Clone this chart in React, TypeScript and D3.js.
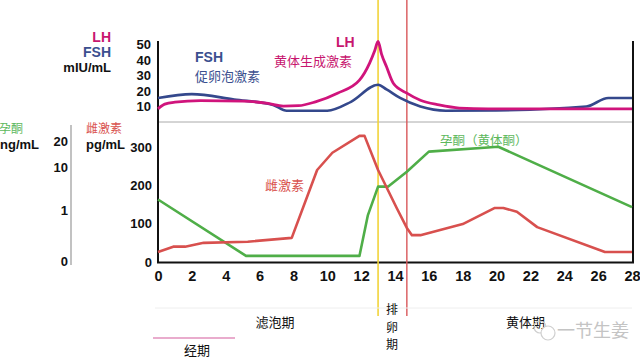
import * as d3 from "d3";
import { useEffect, useRef } from "react";

// [day, value]
const lhPoints = [
  [0, 8.5], [0.4, 11.5], [1, 12.8], [2.5, 13.8], [5, 13.5], [6.5, 12], [7.4, 10.3],
  [8.3, 10.5], [9.3, 13], [10.6, 18.6], [11.9, 27], [12.5, 38], [12.8, 46], [13, 52],
  [13.2, 44], [13.5, 35.6], [13.9, 25], [14.7, 18.6], [15.5, 14], [16.6, 11],
  [17.8, 9], [19.5, 8.5], [28, 8.5],
];
const fshPoints = [
  [0, 15.5], [2, 18], [4.5, 14.5], [6.8, 11], [7.6, 7.3], [10, 7.3], [11.4, 13],
  [13, 24], [13.5, 21], [14.3, 15.5], [15.5, 10], [17, 7.3], [20, 7.5], [25.3, 10],
  [26.6, 15.5], [28, 15.5],
];
const estradiolPoints = [
  [0, 26], [0.9, 40], [1.6, 40], [2.7, 50], [5.3, 53], [7.9, 63], [9.4, 240],
  [10.3, 285], [11.9, 329], [12.2, 329], [13, 240], [14.1, 141], [14.7, 89],
  [15, 70], [15.5, 70], [18, 99], [19.9, 141], [20.4, 141], [21.2, 131],
  [22.4, 91], [26.4, 26], [28, 26],
];
const progesteronePoints = [
  [0, 3.2], [5.2, 0.1], [11.9, 0.1], [12.4, 0.9], [13, 5.9], [13.6, 5.9],
  [14.7, 9], [16, 15.9], [20.1, 17.8], [28, 1.6],
];

const dayTicks = [0, 2, 4, 6, 8, 10, 12, 14, 16, 18, 20, 22, 24, 26, 28];
const lhTicks = [10, 20, 30, 40, 50];
const estradiolTicks = [0, 100, 200, 300];
const progesteroneTicks = [0, 1, 10, 20];
const ovulationDay = 13;
const lutealStartDay = 14.7;

const cjk = "'Noto Sans CJK SC', sans-serif";
const latin = "'Liberation Sans', Arial, sans-serif";

const App = () => {
  const svgRef = useRef(null);

  useEffect(() => {
    const svg = d3.select(svgRef.current);
    svg.selectAll("*").remove();

    const x = d3.scaleLinear().domain([0, 28]).range([158, 632]);
    const yTop = d3.scaleLinear().domain([0, 50]).range([122, 44.5]);
    const yE2 = d3.scaleLinear().domain([0, 300]).range([262, 147]);
    const yP4 = d3.scaleLinear().domain([0, 1, 10, 20]).range([261, 210, 167, 141]);

    const txt = (s, px, py, opts) => {
      const t = svg
        .append("text")
        .attr("x", px)
        .attr("y", py)
        .attr("font-family", opts.font || cjk)
        .attr("font-size", opts.size || 13)
        .attr("font-weight", opts.weight || "normal")
        .attr("fill", opts.fill || "#111")
        .attr("text-anchor", opts.anchor || "start")
        .text(s);
      return t;
    };

    // frame
    svg.append("line").attr("x1", 158).attr("x2", 633).attr("y1", 122).attr("y2", 122)
      .attr("stroke", "#aaa").attr("stroke-width", 1);
    svg.append("line").attr("x1", 158).attr("x2", 158).attr("y1", 41).attr("y2", 263)
      .attr("stroke", "#111").attr("stroke-width", 2);
    svg.append("line").attr("x1", 633).attr("x2", 633).attr("y1", 41).attr("y2", 263)
      .attr("stroke", "#111").attr("stroke-width", 2);
    svg.append("line").attr("x1", 157).attr("x2", 634).attr("y1", 262.5).attr("y2", 262.5)
      .attr("stroke", "#111").attr("stroke-width", 2);
    svg.append("line").attr("x1", 71).attr("x2", 71).attr("y1", 125).attr("y2", 265)
      .attr("stroke", "#999").attr("stroke-width", 1.2);

    // axes
    const styleAxis = (g, size) => {
      g.select(".domain").remove();
      g.selectAll("text")
        .attr("font-family", latin)
        .attr("font-weight", "bold")
        .attr("font-size", size)
        .attr("fill", "#111");
    };
    svg.append("g").attr("transform", "translate(0,263)")
      .call(d3.axisBottom(x).tickValues(dayTicks).tickSize(0).tickPadding(8).tickFormat(d3.format("d")))
      .call((g) => styleAxis(g, 14.5));
    svg.append("g").attr("transform", "translate(158,0)")
      .call(d3.axisLeft(yTop).tickValues(lhTicks).tickSize(0).tickPadding(7))
      .call((g) => styleAxis(g, 13));
    svg.append("g").attr("transform", "translate(158,0)")
      .call(d3.axisLeft(yE2).tickValues(estradiolTicks).tickSize(0).tickPadding(6))
      .call((g) => styleAxis(g, 13));
    svg.append("g").attr("transform", "translate(71,0)")
      .call(d3.axisLeft(yP4).tickValues(progesteroneTicks).tickSize(0).tickPadding(3).tickFormat(d3.format("d")))
      .call((g) => styleAxis(g, 13));

    // vertical markers
    svg.append("line").attr("x1", x(ovulationDay)).attr("x2", x(ovulationDay))
      .attr("y1", 0).attr("y2", 316).attr("stroke", "#f2d43a").attr("stroke-width", 1.6);
    svg.append("line").attr("x1", x(lutealStartDay)).attr("x2", x(lutealStartDay))
      .attr("y1", 0).attr("y2", 316).attr("stroke", "#d9575a").attr("stroke-width", 1.4);

    // series
    const series = [
      { pts: progesteronePoints, y: yP4, color: "#4fae48", w: 2.6, curve: d3.curveLinear },
      { pts: estradiolPoints, y: yE2, color: "#d8504e", w: 2.6, curve: d3.curveLinear },
      { pts: fshPoints, y: yTop, color: "#34488c", w: 2.6, curve: d3.curveMonotoneX },
      { pts: lhPoints, y: yTop, color: "#d0147c", w: 2.8, curve: d3.curveMonotoneX },
    ];
    svg.selectAll(".series")
      .data(series)
      .join("path")
      .attr("class", "series")
      .attr("fill", "none")
      .attr("stroke", (d) => d.color)
      .attr("stroke-width", (d) => d.w)
      .attr("stroke-linejoin", "round")
      .attr("d", (s) =>
        d3.line().curve(s.curve).x((d) => x(d[0])).y((d) => s.y(d[1]))(s.pts)
      );

    // unit labels
    txt("LH", 111, 42, { font: latin, weight: "bold", size: 14, fill: "#c8176f", anchor: "end" });
    txt("FSH", 111, 57, { font: latin, weight: "bold", size: 14, fill: "#3b4f8f", anchor: "end" });
    txt("mIU/mL", 111, 72, { font: latin, weight: "bold", size: 13, anchor: "end" });
    txt("孕酮", -1, 133, { size: 12, fill: "#5cb85c" });
    txt("ng/mL", 0, 149, { font: latin, weight: "bold", size: 13 });
    txt("雌激素", 86, 133, { size: 12, fill: "#d9534f" });
    txt("pg/mL", 86, 149, { font: latin, weight: "bold", size: 13 });

    // series labels
    txt("FSH", 195, 62, { font: latin, weight: "bold", size: 14, fill: "#3b4f8f" });
    txt("促卵泡激素", 195, 81, { size: 13, fill: "#3b4f8f" });
    txt("LH", 336, 47, { font: latin, weight: "bold", size: 14, fill: "#c8176f" });
    txt("黄体生成激素", 274, 66, { size: 13, fill: "#c8176f" });
    txt("雌激素", 265, 190, { size: 13, fill: "#d9534f" });
    txt("孕酮（黄体酮）", 440, 145, { size: 12.5, fill: "#5cb85c" });

    // phases
    svg.append("line").attr("x1", 155).attr("x2", 632).attr("y1", 308).attr("y2", 308)
      .attr("stroke", "#eeeeee").attr("stroke-width", 1);
    txt("滤泡期", 275, 327, { size: 13, anchor: "middle" });
    ["排", "卵", "期"].forEach((c, i) =>
      txt(c, 392, 314 + i * 17.5, { size: 12, anchor: "middle" })
    );
    txt("黄体期", 506, 327, { size: 13 });
    svg.append("line").attr("x1", 153).attr("x2", 235).attr("y1", 338).attr("y2", 338)
      .attr("stroke", "#d35a9c").attr("stroke-width", 1.2);
    txt("经期", 197, 355, { size: 13, anchor: "middle" });

    // watermark
    svg.append("circle").attr("cx", 540).attr("cy", 327).attr("r", 6)
      .attr("fill", "none").attr("stroke", "#cfcfcf").attr("stroke-width", 1.2);
    svg.append("circle").attr("cx", 548).attr("cy", 333).attr("r", 7)
      .attr("fill", "white").attr("stroke", "#cfcfcf").attr("stroke-width", 1.2);
    txt("一节生姜", 557, 337, { size: 18, fill: "#c4c4c4" });
  }, []);

  return (
    <svg
      ref={svgRef}
      width={640}
      height={359}
      style={{ position: "absolute", left: 0, top: 0, background: "white" }}
    />
  );
};

export default App;
